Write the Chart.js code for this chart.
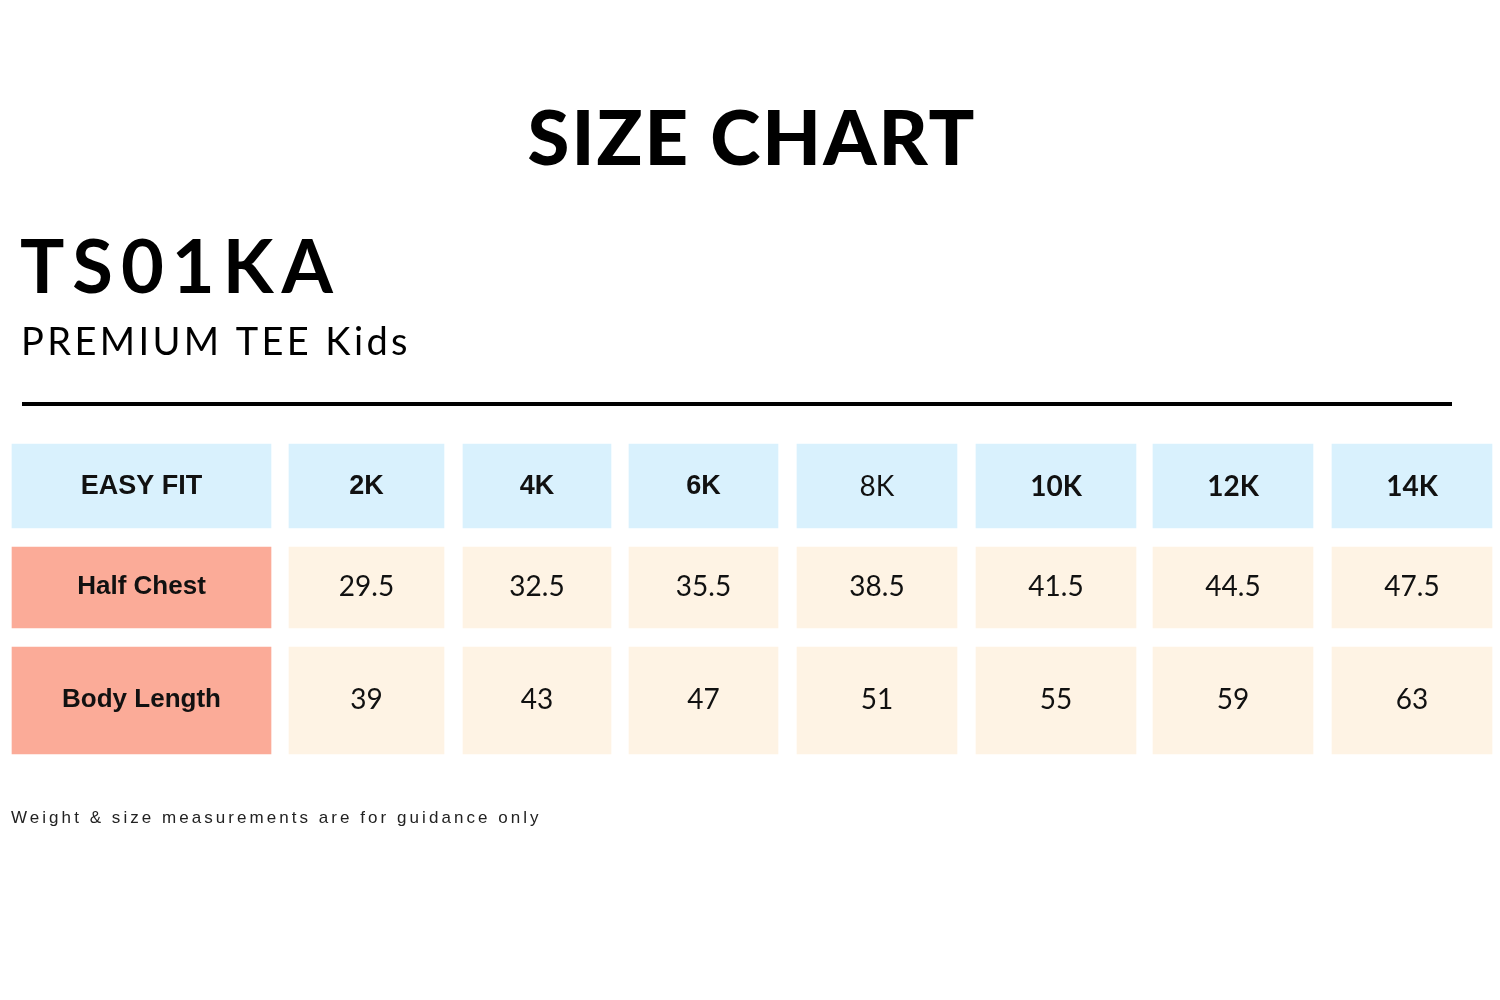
<!DOCTYPE html>
<html>
<head>
<meta charset="utf-8">
<title>Size Chart TS01KA</title>
<script src="https://cdn.jsdelivr.net/npm/chart.js"></script>
<style>
  html, body { margin: 0; padding: 0; background: #fff; }
  #wrap { width: 1500px; height: 1000px; position: relative; }
</style>
</head>
<body>
<div id="wrap"><canvas id="sizeChart" width="1500" height="1000"></canvas></div>
<script>
// Table data
const fitLabel = 'EASY FIT';
const sizes = ['2K', '4K', '6K', '8K', '10K', '12K', '14K'];
const measures = ['Half Chest', 'Body Length'];
const halfChest = [29.5, 32.5, 35.5, 38.5, 41.5, 44.5, 47.5];
const bodyLength = [39, 43, 47, 51, 55, 59, 63];

// Texts
const mainTitle = 'SIZE CHART';
const productCode = 'TS01KA';
const productName = 'PREMIUM TEE Kids';
const footNote = 'Weight & size measurements are for guidance only';

// Layout (scale units = px of the page)
const colEdges = [[12, 271], [289, 444], [463, 611], [629, 778], [797, 957], [976, 1136], [1153, 1313], [1332, 1492]];
const rowBands = [[444, 528], [547, 628], [647, 754]];

// Styles
const headerBlue = '#d9f1fd';
const labelSalmon = '#fbab98';
const valueCream = '#fef3e4';
const textColor = '#111111';
const headerFonts = [
  'bold 27px "Liberation Sans"', 'bold 27px "Liberation Sans"', 'bold 27px "Liberation Sans"',
  'normal 28px Lato', 'bold 28px Lato', 'bold 28px Lato', 'bold 28px Lato'
];

const rows = [
  { labels: [fitLabel].concat(sizes), colors: [headerBlue].concat(sizes.map(() => headerBlue)) },
  { labels: [measures[0]].concat(halfChest.map(String)), colors: [labelSalmon].concat(halfChest.map(() => valueCream)) },
  { labels: [measures[1]].concat(bodyLength.map(String)), colors: [labelSalmon].concat(bodyLength.map(() => valueCream)) }
];

const datasets = rows.map((row, r) => ({
  label: row.labels[0],
  data: row.labels.map((_, c) => ({ x: colEdges[c], y: (rowBands[r][0] + rowBands[r][1]) / 2 })),
  backgroundColor: row.colors,
  borderWidth: 0,
  borderSkipped: false,
  barThickness: rowBands[r][1] - rowBands[r][0],
  grouped: false
}));

function cellFont(r, c) {
  if (r === 0) return c === 0 ? 'bold 27px "Liberation Sans"' : headerFonts[c - 1];
  if (c === 0) return 'bold 26px "Liberation Sans"';
  return 'normal 28px Lato';
}

const textPlugin = {
  id: 'sizeTexts',
  afterDatasetsDraw(chart) {
    const ctx = chart.ctx;
    ctx.save();
    ctx.fillStyle = textColor;
    ctx.textBaseline = 'middle';
    ctx.textAlign = 'center';
    rows.forEach((row, r) => {
      const meta = chart.getDatasetMeta(r);
      meta.data.forEach((bar, c) => {
        ctx.font = cellFont(r, c);
        ctx.fillText(row.labels[c], (bar.x + bar.base) / 2, bar.y + (r === 0 ? 1 : -1));
      });
    });

    // headings
    ctx.fillStyle = '#000';
    ctx.textBaseline = 'alphabetic';
    ctx.textAlign = 'center';
    ctx.font = '900 76px Lato';
    ctx.letterSpacing = '2px';
    ctx.fillText(mainTitle, 752, 165);

    ctx.textAlign = 'left';
    ctx.font = 'bold 74px Lato';
    ctx.letterSpacing = '8px';
    ctx.fillText(productCode, 20, 293);

    ctx.font = 'normal 38px Lato';
    ctx.letterSpacing = '3.4px';
    ctx.fillText(productName, 21, 355);

    ctx.fillRect(22, 402, 1430, 4);

    ctx.fillStyle = '#222';
    ctx.font = 'normal 17px "Liberation Sans"';
    ctx.letterSpacing = '3.05px';
    ctx.fillText(footNote, 11, 823);
    ctx.restore();
  }
};

new Chart(document.getElementById('sizeChart'), {
  type: 'bar',
  data: { datasets: datasets },
  options: {
    indexAxis: 'y',
    responsive: false,
    animation: false,
    layout: { padding: 0 },
    plugins: { legend: { display: false }, tooltip: { enabled: false }, title: { display: false } },
    scales: {
      x: { type: 'linear', min: 0, max: 1500, display: false, offset: false },
      y: { type: 'linear', min: 0, max: 1000, reverse: true, display: false, offset: false }
    }
  },
  plugins: [textPlugin]
});
</script>
</body>
</html>
